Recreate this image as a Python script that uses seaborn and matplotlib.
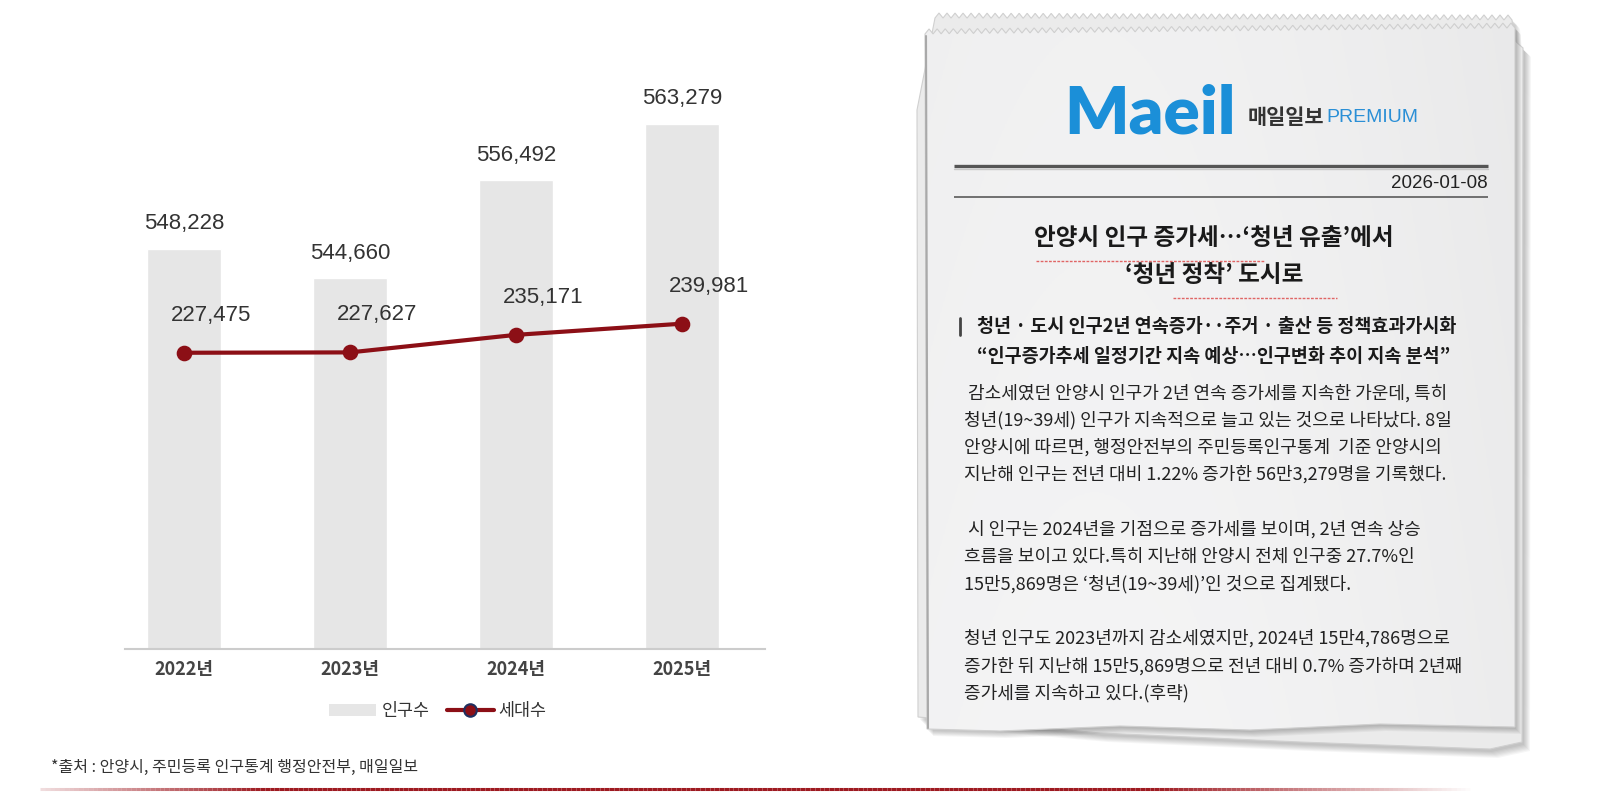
import numpy as np
import matplotlib
matplotlib.use('Agg')
import matplotlib.pyplot as plt
import seaborn as sns
from matplotlib.patches import Polygon, Patch
from matplotlib.lines import Line2D
from matplotlib.collections import LineCollection

# ---- data ----
years = ['2022년', '2023년', '2024년', '2025년']
population = [548228, 544660, 556492, 563279]
households = [227475, 227627, 235171, 239981]
legend_labels = ['인구수', '세대수']
source_text = '*출처 : 안양시, 주민등록 인구통계 행정안전부, 매일일보'

paper_date = '2026-01-08'
headline = ['안양시 인구 증가세…‘청년 유출’에서', '‘청년 정착’ 도시로']
subhead = ['청년 · 도시 인구2년 연속증가··주거 · 출산 등 정책효과가시화',
           '“인구증가추세 일정기간 지속 예상…인구변화 추이 지속 분석”']
body = [
    ' 감소세였던 안양시 인구가 2년 연속 증가세를 지속한 가운데, 특히',
    '청년(19~39세) 인구가 지속적으로 늘고 있는 것으로 나타났다. 8일',
    '안양시에 따르면, 행정안전부의 주민등록인구통계  기준 안양시의',
    '지난해 인구는 전년 대비 1.22% 증가한 56만3,279명을 기록했다.',
    '',
    ' 시 인구는 2024년을 기점으로 증가세를 보이며, 2년 연속 상승',
    '흐름을 보이고 있다.특히 지난해 안양시 전체 인구중 27.7%인',
    '15만5,869명은 ‘청년(19~39세)’인 것으로 집계됐다.',
    '',
    '청년 인구도 2023년까지 감소세였지만, 2024년 15만4,786명으로',
    '증가한 뒤 지난해 15만5,869명으로 전년 대비 0.7% 증가하며 2년째',
    '증가세를 지속하고 있다.(후략)',
]

BAR_C = '#e6e6e6'
LINE_C = '#8c0f16'
NUM_FONT = ['Liberation Sans Narrow', 'Liberation Sans', 'DejaVu Sans']

sns.set_theme(style='white')
plt.rcParams['font.family'] = ['Noto Sans CJK KR', 'DejaVu Sans']

fig = plt.figure(figsize=(16, 7.94), dpi=100)

# background axes in pixel coordinates (for the paper clipping)
bg = fig.add_axes([0, 0, 1, 1], zorder=0)
bg.set_xlim(0, 1600)
bg.set_ylim(794, 0)
bg.axis('off')

# ---- chart ----
ax = fig.add_axes([125 / 1600, (794 - 649) / 794, 640 / 1600, 581 / 794], zorder=2)
ax.patch.set_alpha(0)
sns.barplot(x=years, y=population, color=BAR_C, width=0.45, saturation=1, ax=ax)
ax.set_ylim(500000, 570000)

ax2 = ax.twinx()
sns.pointplot(x=years, y=households, color=LINE_C, markers='o', linestyles='-',
              markersize=9, linewidth=3, ax=ax2)
ax2.set_ylim(100000, 350000)
ax.set_xlim(-0.355, 3.5)

for a in (ax, ax2):
    for s in a.spines.values():
        s.set_visible(False)
    a.set_yticks([])
    a.set_ylabel('')
    a.set_xlabel('')
ax.spines['bottom'].set_visible(True)
ax.spines['bottom'].set_color('#cccccc')
ax.spines['bottom'].set_linewidth(1.5)
ax.tick_params(axis='x', length=0, pad=8, labelsize=13, labelcolor='#444444')
for t in ax.get_xticklabels():
    t.set_fontweight('bold')
ax2.tick_params(axis='x', length=0, labelbottom=False)

for i, v in enumerate(population):
    ax.annotate(f'{v:,}', (i, v), xytext=(0, 18), textcoords='offset points',
                ha='center', va='center', fontsize=16, color='#333333', family=NUM_FONT)
for i, v in enumerate(households):
    ax2.annotate(f'{v:,}', (i, v), xytext=(19.5, 27), textcoords='offset points',
                 ha='center', va='center', fontsize=16, color='#333333', family=NUM_FONT)

handles = [Patch(facecolor=BAR_C, edgecolor='none'),
           Line2D([], [], color=LINE_C, lw=3, marker='o', markersize=9,
                  markerfacecolor=LINE_C, markeredgecolor='#1f2f5f', markeredgewidth=1.5)]
fig.legend(handles, legend_labels, loc='center', bbox_to_anchor=(438 / 1600, 1 - 711 / 794),
           ncol=2, frameon=False, fontsize=12.5, handlelength=2.7, columnspacing=1.0,
           handletextpad=0.3, labelcolor='#333333')

fig.text(51 / 1600, 1 - 767 / 794, source_text, fontsize=11.5, color='#333333', va='center')

# bottom red rule with faded ends
xs = np.linspace(40, 1470, 300)
alpha = np.clip(np.minimum((xs - 40) / 260 + 0.15, (1470 - xs) / 320), 0, 1)
segs = [[(xs[k], 789), (xs[k + 1], 789)] for k in range(len(xs) - 1)]
cols = [(0.62, 0.10, 0.13, a) for a in alpha[:-1]]
bg.add_collection(LineCollection(segs, colors=cols, linewidths=2.2))

# ---- newspaper clipping ----
def zigzag(x0, y0, x1, y1, step=8, amp=5):
    n = int((x1 - x0) / step)
    zx = np.linspace(x0, x1, 2 * n + 1)
    zy = np.linspace(y0, y1, 2 * n + 1) - amp * (np.arange(2 * n + 1) % 2)
    return list(zip(zx, zy))

back_pts = zigzag(935, 18, 1512, 20) + [(1514, 40), (1523, 48), (1522, 742), (1490, 749),
                                         (1300, 742), (1100, 733), (918, 717), (917, 110)]
front_pts = zigzag(925, 34, 1515, 28) + [(1515, 727), (1380, 724), (1250, 730), (1120, 726),
                                          (1000, 731), (927, 729)]

for k in range(7):
    bg.add_patch(Polygon(np.array(back_pts) + (2 + k, 3 + k), closed=True,
                         facecolor='black', edgecolor='none', alpha=0.035, zorder=1))
bg.add_patch(Polygon(back_pts, closed=True, facecolor='#ebebeb', edgecolor='#d0d0d0',
                     lw=0.8, zorder=2))
for k in range(6):
    bg.add_patch(Polygon(np.array(front_pts) + (1 + k, 2 + k), closed=True,
                         facecolor='black', edgecolor='none', alpha=0.04, zorder=3))
front = Polygon(front_pts, closed=True, facecolor='none', edgecolor='#cfcfcf', lw=0.8, zorder=5)
bg.add_patch(front)

gx, gy = np.meshgrid(np.linspace(0, 1, 200), np.linspace(0, 1, 200))
bright = 0.915 + 0.03 * np.sin(np.pi * (0.3 + 0.7 * gx)) + 0.012 * gy
grad = np.dstack([bright, bright, bright * 1.003])
grad = np.clip(grad, 0, 1)
img = bg.imshow(grad, extent=(925, 1516, 735, 20), zorder=4, aspect='auto')
img.set_clip_path(front)
bg.plot([926, 928], [36, 728], color='#a9a9a9', lw=1.5, zorder=5)
bg.set_xlim(0, 1600)
bg.set_ylim(794, 0)

# logo
bg.text(1064, 134, 'Maeil', fontsize=48.5, color='#1b8fd8', fontweight='heavy',
        family=['Lato', 'DejaVu Sans'], va='baseline', zorder=6)
bg.text(1248, 117, '매일일보', fontsize=15, color='#333333', fontweight='bold',
        va='center', zorder=6)
bg.text(1326, 118, 'PREMIUM', fontsize=14, color='#2a8fd6', va='center',
        family=NUM_FONT, zorder=6)

# rules and date
bg.plot([954, 1488], [166, 166], color='#555555', lw=2.4, zorder=6, solid_capstyle='butt')
bg.plot([954, 1488], [168.5, 168.5], color='#c8c8c8', lw=1, zorder=6)
bg.plot([954, 1488], [197, 197], color='#666666', lw=1.3, zorder=6, solid_capstyle='butt')
bg.text(1488, 183, paper_date, fontsize=13.5, color='#222222', ha='right', va='center',
        family=NUM_FONT, zorder=6)

# headline
for j, line in enumerate(headline):
    bg.text(1214, 238 + 37 * j, line, fontsize=17, fontweight='bold', color='#1a1a1a',
            ha='center', va='center', zorder=6)
bg.plot([1036, 1265], [261, 261], color='#e06565', lw=1, ls=(0, (2, 1)), zorder=6)
bg.plot([1173, 1337], [298, 298], color='#e06565', lw=1, ls=(0, (2, 1)), zorder=6)

# subhead
bg.plot([960, 960], [318, 335], color='#444444', lw=2, zorder=6)
for j, line in enumerate(subhead):
    bg.text(977, 326 + 31 * j, line, fontsize=13.3, fontweight='bold', color='#1a1a1a',
            va='center', zorder=6)

# body
for j, line in enumerate(body):
    if line:
        bg.text(964, 393 + 27.3 * j, line, fontsize=13, color='#222222',
                va='center', zorder=6)

fig.savefig('out.png', dpi=100)
